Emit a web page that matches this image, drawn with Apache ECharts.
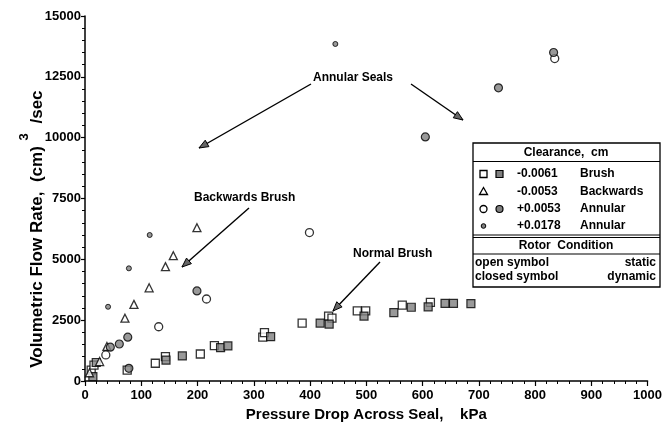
<!DOCTYPE html>
<html><head><meta charset="utf-8">
<script src="https://cdn.jsdelivr.net/npm/echarts@6/dist/echarts.min.js"></script>
<style>html,body{margin:0;padding:0;background:#fff}#c{width:665px;height:434px}</style>
</head><body><div id="c"></div>
<script>
// ---- data (kPa, cm^3/sec) ----
const brushStatic = [[11,450],[16,650],[75,450],[125,730],[143,1000],[205,1110],[230,1450],[316,1800],[319,1990],[386,2380],[433,2670],[439,2580],[484,2880],[499,2880],[564,3120],[614,3230]];
const brushDynamic = [[14,180],[20,760],[144,860],[173,1030],[241,1370],[254,1440],[330,1820],[418,2380],[434,2340],[496,2670],[549,2810],[580,3030],[610,3050],[640,3190],[655,3190],[686,3180]];
const backwardsStatic = [[8,340],[26,800],[39,1420],[71,2580],[87,3150],[114,3830],[143,4700],[157,5150],[199,6300]];
const annular53Static = [[37,1070],[131,2230],[216,3370],[399,6100],[835,13250]];
const annular53Dynamic = [[45,1390],[61,1520],[76,1800],[78,520],[199,3700],[605,10030],[735,12050],[833,13500]];
const annular178 = [[41,3050],[78,4630],[115,6000],[445,13850]];
const legendRows = [["-0.0061","Brush"],["-0.0053","Backwards"],["+0.0053","Annular"],["+0.0178","Annular"]];

const FONT = '"Liberation Sans", Arial, sans-serif';
const chart = echarts.init(document.getElementById('c'), null, {renderer:'canvas'});
const openStyle = {color:'#fff', borderColor:'#000', borderWidth:1.3};
const fillStyle = {color:'#7f7f7f', borderColor:'#000', borderWidth:1.2};

function arrow(x1,y1,x2,y2){
  const a = Math.atan2(y2-y1,x2-x1), L=10, w=0.38;
  const p1=[x2-L*Math.cos(a-w), y2-L*Math.sin(a-w)];
  const p2=[x2-L*Math.cos(a+w), y2-L*Math.sin(a+w)];
  return [
    {type:'line', shape:{x1,y1,x2,y2}, style:{stroke:'#000', lineWidth:1.4}},
    {type:'polygon', shape:{points:[[x2,y2],p1,p2]}, style:{fill:'#666', stroke:'#000', lineWidth:1}}
  ];
}
function txt(x,y,t,opt){
  return {type:'text', x, y, style:Object.assign({text:t, font:'bold 12px '+FONT, fill:'#000', textAlign:'left', textVerticalAlign:'middle'}, opt||{})};
}

const g = [];
// y axis title
g.push({type:'text', x:37, y:257, rotation:Math.PI/2, style:{text:'Volumetric Flow Rate,  (cm)', font:'bold 17px '+FONT, fill:'#000', textAlign:'center', textVerticalAlign:'middle'}});
g.push({type:'text', x:24, y:137, rotation:Math.PI/2, style:{text:'3', font:'bold 13px '+FONT, fill:'#000', textAlign:'center', textVerticalAlign:'middle'}});
g.push({type:'text', x:37, y:107, rotation:Math.PI/2, style:{text:'/sec', font:'bold 17px '+FONT, fill:'#000', textAlign:'center', textVerticalAlign:'middle'}});
// annotations
g.push(txt(313,78,'Annular Seals'));
g.push(...arrow(311,84,199,148));
g.push(...arrow(411,84,463,120));
g.push(txt(194,198,'Backwards Brush'));
g.push(...arrow(249,208,182,267));
g.push(txt(353,254,'Normal Brush'));
g.push(...arrow(380,262,333,311));
// legend box
const L0=473, R0=660, T0=143, B0=287;
g.push({type:'rect', shape:{x:L0,y:T0,width:R0-L0,height:B0-T0}, style:{fill:'#fff', stroke:'#000', lineWidth:1.3}});
[161.5,235,237.5,254].forEach((y)=>g.push({type:'line', shape:{x1:L0,y1:y,x2:R0,y2:y}, style:{stroke:'#000', lineWidth:1.2}}));
g.push(txt(566,152.5,'Clearance,  cm',{textAlign:'center'}));
const rowY=[174,191.5,209,226];
legendRows.forEach((r,i)=>{ g.push(txt(517,rowY[i],r[0])); g.push(txt(580,rowY[i],r[1])); });
// legend symbols
g.push({type:'rect', shape:{x:480,y:rowY[0]-3.5,width:7,height:7}, style:{fill:'#fff',stroke:'#000',lineWidth:1.3}});
g.push({type:'rect', shape:{x:496,y:rowY[0]-3.5,width:7,height:7}, style:{fill:'#7f7f7f',stroke:'#000',lineWidth:1.2}});
g.push({type:'polygon', shape:{points:[[483.5,rowY[1]-4],[479.5,rowY[1]+3],[487.5,rowY[1]+3]]}, style:{fill:'#fff',stroke:'#000',lineWidth:1.3}});
g.push({type:'circle', shape:{cx:483.5,cy:rowY[2],r:3.5}, style:{fill:'#fff',stroke:'#000',lineWidth:1.3}});
g.push({type:'circle', shape:{cx:499.5,cy:rowY[2],r:3.5}, style:{fill:'#7f7f7f',stroke:'#000',lineWidth:1.2}});
g.push({type:'circle', shape:{cx:483.5,cy:rowY[3],r:2.3}, style:{fill:'#7f7f7f',stroke:'#000',lineWidth:1}});
g.push(txt(566,245.5,'Rotor  Condition',{textAlign:'center'}));
g.push(txt(475,263,'open symbol'));
g.push(txt(656,263,'static',{textAlign:'right'}));
g.push(txt(475,277,'closed symbol'));
g.push(txt(656,277,'dynamic',{textAlign:'right'}));

function sc(name,data,symbol,size,style){
  return {name, type:'scatter', data, symbol, symbolSize:size, itemStyle:style, z:3, silent:true};
}
const plain = v => String(v);

chart.setOption({
  animation:false,
  backgroundColor:'#fff',
  grid:{left:85, right:15, top:16, bottom:53, containLabel:false},
  xAxis:{type:'value', min:0, max:1000, interval:100,
    name:'Pressure Drop Across Seal,    kPa', nameLocation:'middle', nameGap:26,
    nameTextStyle:{fontFamily:FONT, fontWeight:'bold', fontSize:15, color:'#000'},
    axisLine:{onZero:false, lineStyle:{color:'#000', width:1.5}},
    axisTick:{show:true, length:5, inside:false, lineStyle:{color:'#000', width:1.2}},
    minorTick:{show:true, splitNumber:5, length:3, lineStyle:{color:'#000', width:1}},
    splitLine:{show:false},
    axisLabel:{fontFamily:FONT, fontWeight:'bold', fontSize:13, color:'#000', margin:8, formatter:plain}},
  yAxis:{type:'value', min:0, max:15000, interval:2500,
    axisLine:{show:true, onZero:false, lineStyle:{color:'#000', width:1.5}},
    axisTick:{show:true, length:4, inside:false, lineStyle:{color:'#000', width:1.2}},
    minorTick:{show:true, splitNumber:5, length:3, lineStyle:{color:'#000', width:1}},
    splitLine:{show:false},
    axisLabel:{fontFamily:FONT, fontWeight:'bold', fontSize:13, color:'#000', margin:4, formatter:plain}},
  series:[
    sc('brushStatic',brushStatic,'rect',8,openStyle),
    sc('brushDynamic',brushDynamic,'rect',8,fillStyle),
    sc('backwardsStatic',backwardsStatic,'triangle',8,openStyle),
    sc('annular53Static',annular53Static,'circle',8,openStyle),
    sc('annular53Dynamic',annular53Dynamic,'circle',8,fillStyle),
    sc('annular178',annular178,'circle',5,{color:'#7f7f7f', borderColor:'#000', borderWidth:1})
  ],
  graphic:g
});
</script></body></html>
